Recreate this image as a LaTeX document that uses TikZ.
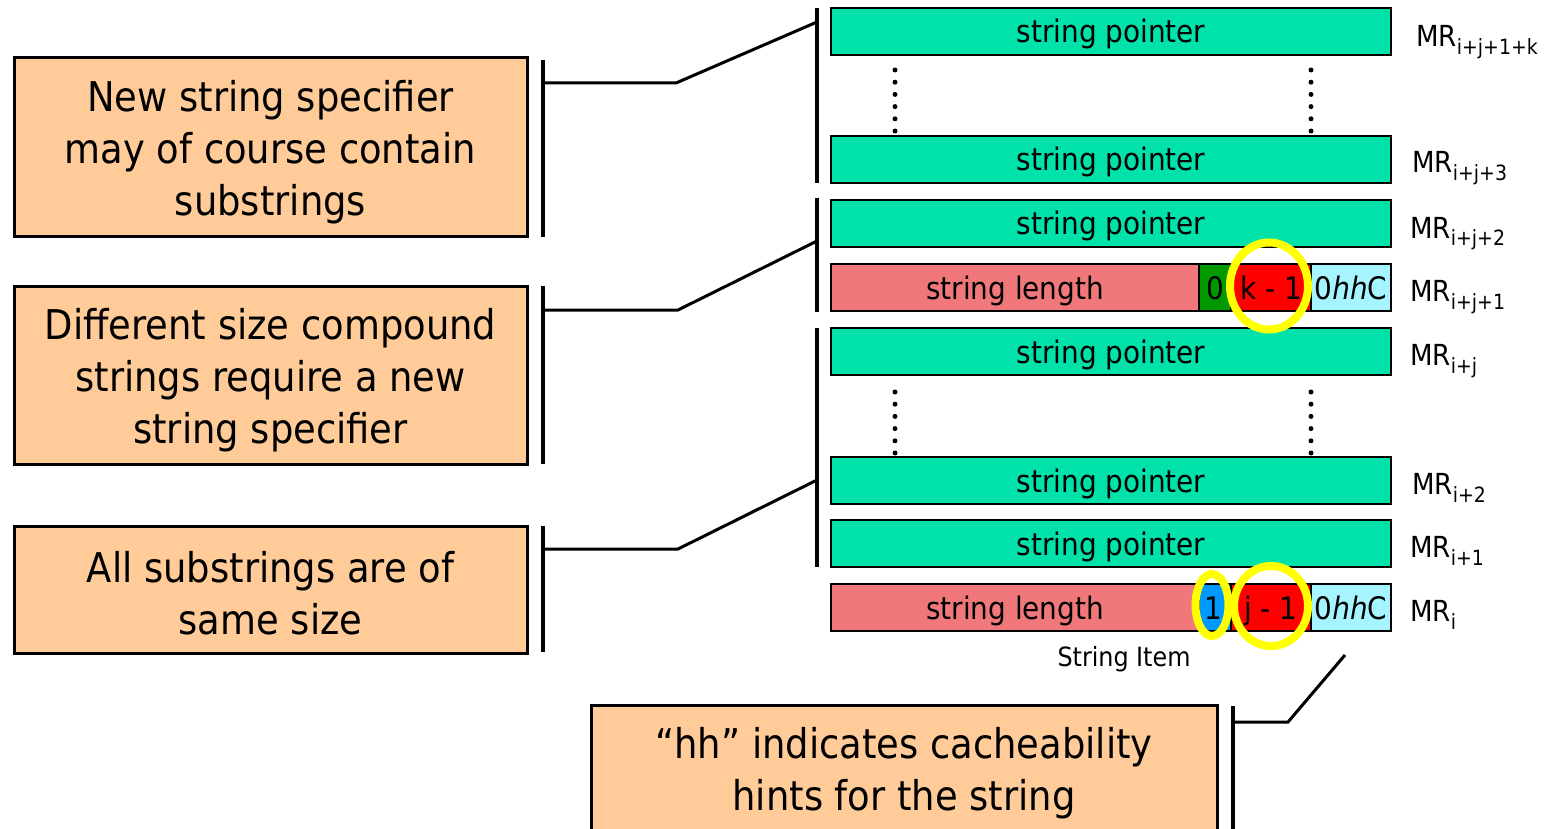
\documentclass[tikz,border=0pt]{standalone}
\usepackage{fontspec}
\setmainfont{DejaVu Sans Condensed}
\definecolor{ptrgreen}{RGB}{0,226,170}
\definecolor{lenpink}{RGB}{241,120,122}
\definecolor{bitgreen}{RGB}{0,153,0}
\definecolor{cntred}{RGB}{255,0,0}
\definecolor{flagcyan}{RGB}{166,244,255}
\definecolor{bitblue}{RGB}{0,153,255}
\definecolor{ringyellow}{RGB}{255,255,0}
\definecolor{notepeach}{RGB}{255,204,153}
\newcommand{\mrlabel}[1]{MR\raisebox{-8pt}{\fontsize{21}{23}\selectfont #1}}
\tikzset{
  celltext/.style={inner sep=0pt, font=\fontsize{31}{36}\selectfont, text height=30pt, text depth=7pt},
  cell/.style={draw=black, line width=1.6pt, minimum height=47pt, celltext},
  ptrrow/.style={cell, fill=ptrgreen, minimum width=560pt},
  notebox/.style={draw=black, line width=3pt, fill=notepeach, inner sep=0pt},
  notetext/.style={align=center, inner sep=0pt, font=\fontsize{41}{52}\selectfont},
  regname/.style={anchor=base west, inner sep=0pt, font=\fontsize{29}{32}\selectfont},
  bar/.style={line width=4pt},
  link/.style={line width=3pt, line join=miter},
  vdots/.style={line width=5pt, line cap=round, dash pattern=on 0pt off 12.2pt},
  ring/.style={draw=ringyellow, line width=8pt}
}
\begin{document}
\begin{tikzpicture}[x=1pt,y=-1pt]
\useasboundingbox (0,0) rectangle (1566,829);

% register rows
\node[ptrrow] (r1) at (1111,31.5) {string pointer};
\node[ptrrow] (r2) at (1111,159.5) {string pointer};
\node[ptrrow] (r3) at (1111,223.5) {string pointer};
\node[cell, fill=lenpink, minimum width=368pt] (l4) at (1015,287.5) {string length};
\node[cell, fill=bitgreen, minimum width=32pt] (g4) at (1215,287.5) {0};
\node[cell, fill=cntred, minimum width=80pt] (k4) at (1271,287.5) {k - 1};
\node[cell, fill=flagcyan, minimum width=80pt] (f4) at (1351,287.5) {0\textit{hh}C};
\node[ptrrow] (r5) at (1111,351.5) {string pointer};
\node[ptrrow] (r6) at (1111,480.5) {string pointer};
\node[ptrrow] (r7) at (1111,543.5) {string pointer};
\node[cell, fill=lenpink, minimum width=368pt] (l8) at (1015,607.5) {string length};
\node[cell, fill=bitblue, minimum width=32pt] (b8) at (1215,607.5) {};
\node[cell, fill=cntred, minimum width=80pt] (j8) at (1271,607.5) {};
\node[cell, fill=flagcyan, minimum width=80pt] (f8) at (1351,607.5) {0\textit{hh}C};

% highlight rings
\draw[ring] (1269,286) ellipse [x radius=39pt, y radius=43.5pt];
\draw[ring] (1271,606) ellipse [x radius=37pt, y radius=40pt];
\draw[ring] (1212,605) ellipse [x radius=16.5pt, y radius=31pt];
\node[celltext] (j8t) at (1271,607.5) {j - 1};
\node[celltext] (b8t) at (1213,607.5) {1};

% elided rows
\draw[vdots] (895,70) -- (895,131);
\draw[vdots] (1311,70) -- (1311,131);
\draw[vdots] (895,392) -- (895,453);
\draw[vdots] (1311,392) -- (1311,453);

% register names
\node[regname] (m1) at (1416,47) {\mrlabel{i+j+1+k}};
\node[regname] (m2) at (1412,173) {\mrlabel{i+j+3}};
\node[regname] (m3) at (1410,238) {\mrlabel{i+j+2}};
\node[regname] (m4) at (1410,301) {\mrlabel{i+j+1}};
\node[regname] (m5) at (1410,365) {\mrlabel{i+j}};
\node[regname] (m6) at (1412,494) {\mrlabel{i+2}};
\node[regname] (m7) at (1410,557) {\mrlabel{i+1}};
\node[regname] (m8) at (1410,621) {\mrlabel{i}};

\node[inner sep=0pt, font=\fontsize{26.5}{30}\selectfont] (item) at (1124,659) {String Item};

% notes
\node[notebox, minimum width=513pt, minimum height=179pt] (n1) at (270.5,147.5) {};
\node[notebox, minimum width=513pt, minimum height=178pt] (n2) at (270.5,375) {};
\node[notebox, minimum width=513pt, minimum height=127pt] (n3) at (270.5,589.5) {};
\node[notebox, minimum width=626pt, minimum height=160pt] (n4) at (904,785) {};
\node[notetext] (n1t) at (270.5,152) {New string specifier\\may of course contain\\substrings};
\node[notetext] (n2t) at (270.5,380) {Different size compound\\strings require a new\\string specifier};
\node[notetext] (n3t) at (270.5,593.5) {All substrings are of\\same size};
\node[notetext] (n4t) at (904,773) {“hh” indicates cacheability\\hints for the string};

% brackets
\coordinate (b1t) at (543,60);  \coordinate (b1b) at (543,237);
\coordinate (b2t) at (543,286); \coordinate (b2b) at (543,464);
\coordinate (b3t) at (543,526); \coordinate (b3b) at (543,652);
\coordinate (b4t) at (1233,706); \coordinate (b4b) at (1233,835);
\coordinate (g1t) at (817,8);   \coordinate (g1b) at (817,183);
\coordinate (g2t) at (817,198); \coordinate (g2b) at (817,312);
\coordinate (g3t) at (817,328); \coordinate (g3b) at (817,567);
\foreach \t/\b in {b1t/b1b,b2t/b2b,b3t/b3b,b4t/b4b,g1t/g1b,g2t/g2b,g3t/g3b}
  \draw[bar] (\t) -- (\b);

% links from notes to register groups
\coordinate (e1) at (543,83);  \coordinate (k1) at (676,83);  \coordinate (h1) at (817,22);
\coordinate (e2) at (543,310); \coordinate (k2) at (678,310); \coordinate (h2) at (817,241);
\coordinate (e3) at (543,549); \coordinate (k3) at (678,549); \coordinate (h3) at (817,480);
\coordinate (e4) at (1233,722); \coordinate (k4c) at (1288,722); \coordinate (h4) at (1345,655);
\draw[link] (e1) -- (k1) -- (h1);
\draw[link] (e2) -- (k2) -- (h2);
\draw[link] (e3) -- (k3) -- (h3);
\draw[link] (e4) -- (k4c) -- (h4);
\end{tikzpicture}
\end{document}
